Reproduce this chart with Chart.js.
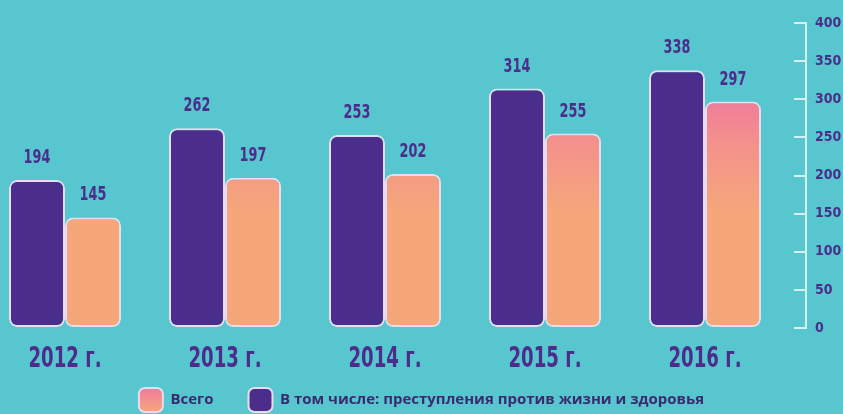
<!DOCTYPE html>
<html>
<head>
  <meta charset="utf-8">
  <title>Преступления 2012–2016</title>
  <script src="https://cdn.jsdelivr.net/npm/chart.js"></script>
  <style>
    html, body { margin: 0; padding: 0; background: #58c6ce; }
    #wrap { width: 843px; height: 414px; }
  </style>
</head>
<body>
<div id="wrap"><canvas id="crimeChart"></canvas></div>
<script>
  // data
  const years = ['2012 г.', '2013 г.', '2014 г.', '2015 г.', '2016 г.'];
  const lifeHealth = [194, 262, 253, 314, 338];   // В том числе: преступления против жизни и здоровья
  const totalAll = [145, 197, 202, 255, 297];     // Всего
  const yTicks = [0, 50, 100, 150, 200, 250, 300, 350, 400];

  const PURPLE = '#4b2e8c';
  const PEACH = '#f5a77a';
  const SALMON = '#f4938a';
  const PINK = '#f07a9c';
  const EDGE = '#e6def0';
  const AXIS = '#d6f1f3';
  const NARROW = '"DejaVu Sans Condensed", "Liberation Sans Narrow", sans-serif';

  const pinkFill = (ctx) => {
    const chart = ctx.chart;
    if (!chart.chartArea) return PEACH;
    const y = chart.scales.y;
    const g = chart.ctx.createLinearGradient(0, y.getPixelForValue(305), 0, y.getPixelForValue(150));
    g.addColorStop(0, PINK);
    g.addColorStop(0.45, SALMON);
    g.addColorStop(1, PEACH);
    return g;
  };

  // tall narrow text like the poster font
  function narrowText(ctx, text, x, y, size, squeeze) {
    ctx.save();
    ctx.font = 'bold ' + size + 'px ' + NARROW;
    ctx.fillStyle = PURPLE;
    ctx.textAlign = 'center';
    ctx.textBaseline = 'alphabetic';
    ctx.translate(x, y);
    ctx.scale(squeeze, 1);
    ctx.fillText(text, 0, 0);
    ctx.restore();
  }

  const posterText = {
    id: 'posterText',
    beforeDraw(chart) {
      // legend swatch for "Всего" gets the same pink->peach fade
      const lg = chart.legend;
      if (!lg || !lg.legendItems) return;
      const item = lg.legendItems.find(it => it.datasetIndex === 1);
      if (!item) return;
      const top = lg.top + lg.options.labels.padding;
      const g = chart.ctx.createLinearGradient(0, top, 0, top + lg.options.labels.boxHeight);
      g.addColorStop(0, PINK);
      g.addColorStop(1, PEACH);
      item.fillStyle = g;
    },
    afterDatasetsDraw(chart) {
      const ctx = chart.ctx;
      chart.data.datasets.forEach((ds, i) => {
        chart.getDatasetMeta(i).data.forEach((bar, j) => {
          narrowText(ctx, String(ds.data[j].y), bar.x, bar.y - 17, 19, 0.75);
        });
      });
      const x = chart.scales.x;
      years.forEach((label, i) => {
        narrowText(ctx, label, x.getPixelForValue(i), x.top + 39, 28, 0.72);
      });
    }
  };

  new Chart(document.getElementById('crimeChart'), {
    type: 'bar',
    data: {
      datasets: [{
        label: 'В том числе: преступления против жизни и здоровья',
        data: lifeHealth.map((v, i) => ({ x: i, y: v })),
        backgroundColor: PURPLE,
        borderColor: EDGE,
        borderWidth: 2,
        borderRadius: 8,
        borderSkipped: false,
        clip: false
      }, {
        label: 'Всего',
        data: totalAll.map((v, i) => ({ x: i, y: v })),
        backgroundColor: pinkFill,
        borderColor: EDGE,
        borderWidth: 2,
        borderRadius: 8,
        borderSkipped: false,
        clip: false
      }]
    },
    options: {
      responsive: true,
      maintainAspectRatio: false,
      animation: false,
      categoryPercentage: 0.7,
      barPercentage: 1,
      layout: { padding: { top: 23, left: 0, right: 0, bottom: 0 } },
      scales: {
        x: {
          type: 'linear',
          offset: false,
          min: -0.40625,
          max: 4.55625,
          afterBuildTicks: (s) => { s.ticks = years.map((_, i) => ({ value: i })); },
          afterFit: (s) => { s.height = 25; },
          grid: { display: false, drawTicks: false },
          border: { display: false },
          ticks: { display: false }
        },
        y: {
          position: 'right',
          weight: 0,
          min: 0,
          max: 400,
          afterBuildTicks: (s) => { s.ticks = yTicks.map(v => ({ value: v })); },
          grid: { drawOnChartArea: false, drawTicks: true, tickLength: 12, color: AXIS, lineWidth: 2 },
          border: { display: false },
          ticks: { display: false }
        },
        y2: {
          position: 'right',
          weight: 1,
          min: 0,
          max: 400,
          afterBuildTicks: (s) => { s.ticks = yTicks.map(v => ({ value: v })); },
          afterFit: (s) => { s.width = 37; },
          grid: { display: false, drawTicks: false },
          border: { display: true, color: AXIS, width: 2 },
          ticks: {
            color: PURPLE,
            padding: 9,
            font: { family: NARROW, size: 14, weight: 'bold' }
          }
        }
      },
      plugins: {
        legend: {
          position: 'bottom',
          reverse: true,
          maxHeight: 61,
          labels: {
            boxWidth: 24,
            boxHeight: 24,
            padding: 35,
            useBorderRadius: true,
            borderRadius: 6,
            color: '#3b2a6e',
            font: { family: '"Open Sans", sans-serif', size: 15, weight: 'bold' }
          }
        },
        tooltip: { enabled: false }
      }
    },
    plugins: [posterText]
  });
</script>
</body>
</html>
